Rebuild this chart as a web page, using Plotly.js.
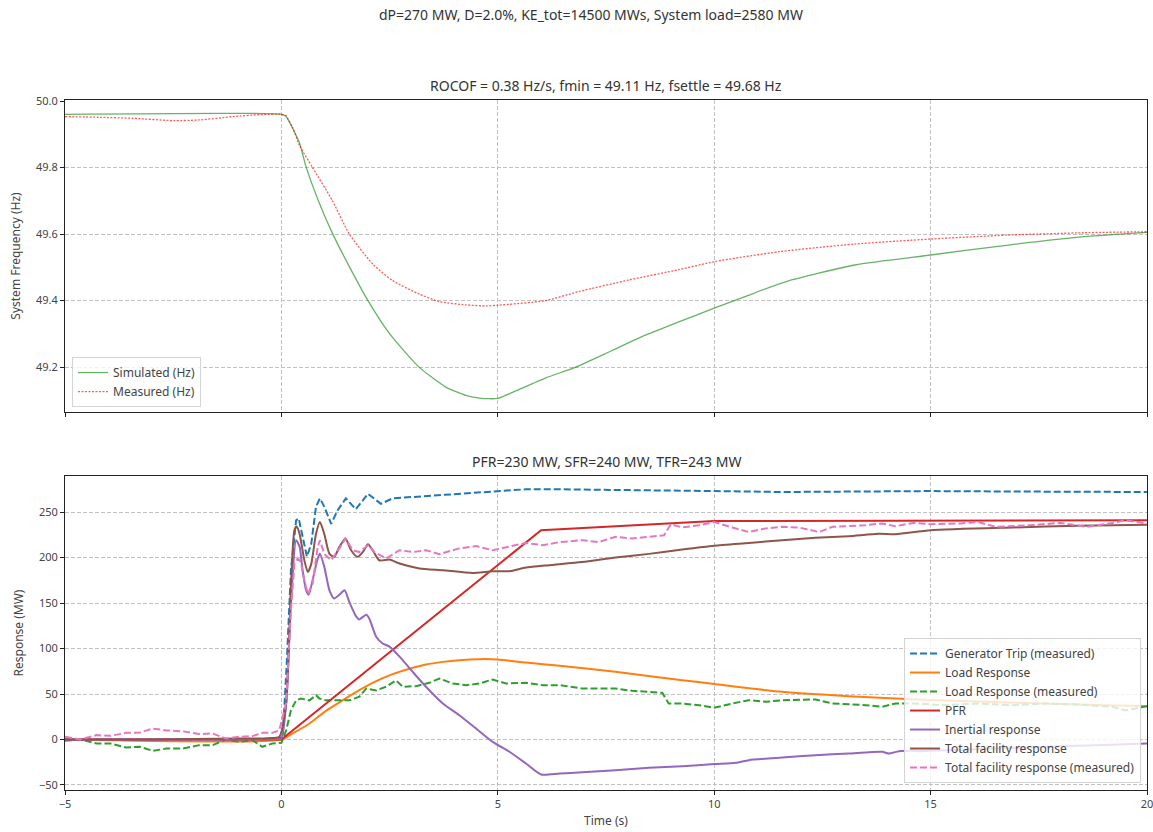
<!DOCTYPE html>
<html>
<head>
<meta charset="utf-8">
<script src="https://cdn.plot.ly/plotly-3.0.1.min.js"></script>
<style>
  html, body { margin: 0; padding: 0; background: #fff; overflow: hidden; }
  #chart { width: 1153px; height: 832px; }
</style>
</head>
<body>
<div id="chart"></div>
<script>
// ---- Frequency panel (Hz) ----
const tSim = [-5, 0, 0.1, 0.26, 0.42, 0.57, 0.88, 1.18, 1.57, 1.99, 2.49, 3.18, 3.8, 4.26, 4.57, 4.8, 5.0, 5.34, 6.1, 6.8, 7.64, 8.41, 9.18, 10, 10.71, 11.66, 13.25, 15, 16.8, 18.55, 20];
const fSim = [49.96, 49.96, 49.955, 49.918, 49.873, 49.802, 49.692, 49.602, 49.502, 49.402, 49.302, 49.2, 49.14, 49.115, 49.107, 49.105, 49.106, 49.124, 49.167, 49.2, 49.25, 49.296, 49.336, 49.377, 49.412, 49.457, 49.507, 49.537, 49.567, 49.592, 49.605];

const tMeas = [-5, -4.2, -3.43, -2.5, -1.9, -1.13, -0.51, 0, 0.1, 0.26, 0.42, 0.72, 1.18, 1.57, 2.11, 2.57, 3.18, 3.65, 4.27, 4.73, 5.0, 6.1, 6.87, 8.03, 9.18, 10, 11.5, 13.25, 15, 16.8, 18.55, 20];
const fMeas = [49.953, 49.951, 49.948, 49.941, 49.943, 49.953, 49.959, 49.96, 49.956, 49.92, 49.866, 49.8, 49.7, 49.6, 49.51, 49.46, 49.42, 49.397, 49.387, 49.384, 49.386, 49.4, 49.427, 49.462, 49.493, 49.517, 49.547, 49.57, 49.585, 49.597, 49.604, 49.607];

// ---- Response panel (MW) ----
const tGen = [-5, -4, -3, -2, -1, -0.1, 0.03, 0.12, 0.22, 0.34, 0.4, 0.49, 0.59, 0.69, 0.8, 0.89, 0.99, 1.15, 1.3, 1.49, 1.72, 2.0, 2.3, 2.57, 3.19, 3.65, 4.42, 5.0, 5.65, 6.4, 7.72, 10, 11.57, 13.8, 15, 17, 19, 20];
const pGen = [0, 0, 0, 0, 0, 1, 3, 80, 186, 241, 243, 223, 201, 215, 256, 265, 256, 237, 252, 265, 253, 270, 259, 265, 267, 269, 271, 273, 275, 275, 274, 273, 272, 273, 273, 272.5, 272, 272];

const tLoad = [-5, 0, 0.26, 0.65, 1.03, 1.42, 1.8, 2.19, 2.57, 2.96, 3.34, 3.73, 4.11, 4.58, 5.0, 5.65, 6.43, 7.72, 9.26, 10, 11.57, 13.11, 15, 16.9, 18.4, 20];
const pLoad = [0, 0, 6.6, 17.6, 31.5, 43.2, 54.2, 64.1, 71.8, 77.7, 82.4, 85.3, 87.2, 88.3, 87.9, 84.5, 81, 74.4, 65.2, 61, 52.4, 47.6, 43.5, 40.5, 38.5, 36.6];

const tLoadMeas = [-5, -4.65, -4.27, -3.96, -3.58, -3.27, -2.97, -2.66, -2.28, -1.9, -1.59, -1.28, -0.97, -0.67, -0.44, -0.21, 0, 0.11, 0.22, 0.34, 0.45, 0.65, 0.8, 0.88, 1.03, 1.34, 1.57, 1.8, 1.96, 2.19, 2.42, 2.65, 2.8, 3.11, 3.42, 3.65, 3.96, 4.27, 4.58, 4.88, 5.19, 5.65, 6.04, 6.43, 6.95, 7.72, 8.1, 8.49, 8.8, 8.95, 9.26, 9.65, 10, 10.42, 10.8, 11.19, 11.57, 12.34, 12.73, 13.5, 13.88, 14.19, 14.6, 15.3, 16.1, 16.9, 17.65, 18.4, 19.2, 19.5, 20];
const pLoadMeas = [-1.5, 0, -4.4, -4.4, -8.8, -8, -12.5, -10, -10, -6.2, -6.2, 0, -2.6, -0.7, -8, -4.4, -3.7, 10, 32, 43, 45, 43, 48.7, 45, 43, 43, 43, 47, 56, 54, 58, 65, 58, 58.6, 62.3, 67, 61.5, 59.7, 61.5, 66, 61.5, 62.3, 59.7, 59.7, 56, 56, 53.5, 52.4, 51.3, 39.6, 39.6, 37.7, 34.8, 39.6, 43.2, 41.4, 43.2, 44, 39.6, 37.7, 35.9, 39.6, 39.6, 37.7, 39.6, 37.7, 39.6, 38.5, 35.9, 32, 36.6];

const tPfr = [-5, 0, 6, 10, 20];
const pPfr = [0, 0, 230, 240, 241];

const tInert = [-5, -0.1, 0, 0.11, 0.22, 0.34, 0.42, 0.49, 0.57, 0.63, 0.72, 0.84, 0.89, 0.99, 1.11, 1.22, 1.34, 1.46, 1.57, 1.73, 1.8, 1.96, 2.03, 2.19, 2.34, 2.5, 2.73, 3.04, 3.34, 3.73, 4.11, 4.5, 4.88, 5.27, 5.65, 6.0, 6.43, 6.95, 7.72, 8.49, 9.26, 10, 10.5, 10.8, 11.57, 12.34, 13.11, 13.88, 14.04, 14.27, 15, 17, 19, 20];
const pInert = [0, 0.5, 1, 39.6, 149, 219, 212, 186, 164, 159, 175, 199, 204, 190, 164, 155, 159, 164, 151, 135, 132, 137, 133, 113, 105.5, 102, 91, 74, 58, 39.6, 26.7, 12, -2.6, -13.5, -26.4, -38.5, -37.4, -36, -33.7, -31, -29.3, -27, -25.6, -22.7, -19.8, -17.2, -15.4, -13.5, -15.4, -12.8, -12.5, -9, -6, -4.5];

const tTotal = [-5, -4, -3, -2, -1, -0.3, -0.05, 0.11, 0.22, 0.3, 0.35, 0.42, 0.53, 0.61, 0.69, 0.8, 0.89, 0.99, 1.11, 1.22, 1.34, 1.48, 1.61, 1.76, 1.88, 2.0, 2.11, 2.26, 2.5, 2.73, 3.19, 3.73, 4.42, 4.88, 5.27, 5.65, 6.18, 6.95, 7.72, 8.49, 9.26, 10, 10.8, 11.57, 12.34, 13.11, 13.8, 14.2, 15, 16.9, 18.4, 20];
const pTotal = [0, 0, 0, 0.5, 1, 1.5, 3, 40, 168, 230, 234, 226, 197, 184, 193, 226, 239, 226, 204, 200.7, 211.7, 221, 208, 200.7, 206, 214.7, 208, 197, 197.8, 193.4, 188, 186, 183, 185, 185, 189, 191.6, 195, 200, 204, 208.8, 213, 216, 219, 221.6, 223.4, 226, 225.6, 230, 233, 234.8, 236];

const tTotalMeas = [-5, -4.65, -4.27, -3.96, -3.58, -3.27, -2.97, -2.66, -2.28, -1.9, -1.59, -1.28, -0.97, -0.67, -0.44, -0.21, -0.05, 0.11, 0.22, 0.3, 0.38, 0.45, 0.53, 0.61, 0.72, 0.84, 0.89, 0.99, 1.15, 1.34, 1.48, 1.65, 1.8, 2.0, 2.15, 2.42, 2.73, 3.04, 3.34, 3.65, 4.11, 4.5, 4.88, 5.19, 5.65, 6.04, 6.43, 6.95, 7.33, 7.72, 8.1, 8.49, 8.84, 9.0, 9.26, 9.65, 10, 10.42, 10.8, 11.19, 11.57, 11.96, 12.42, 12.73, 13.11, 13.5, 13.88, 14.19, 14.6, 15, 15.7, 16.1, 16.5, 17.3, 18.0, 18.6, 19.2, 19.5, 20];
const pTotalMeas = [3, 0, 4.8, 4, 7.3, 7.7, 12, 10, 9, 6, 6.6, 1, 3, 3.7, 7.3, 7.3, 10, 40, 142, 193, 199, 195, 175, 160, 171, 212, 219, 204, 197, 210, 221, 208, 206, 213.5, 206, 199, 208, 206, 208, 203.7, 210, 212.5, 208, 211, 216, 213.5, 217, 219, 217, 222.7, 221, 222.7, 224.5, 236.6, 233, 235.5, 239, 233, 228, 232, 233.7, 233, 228, 233.7, 234.4, 235.5, 237.4, 234.4, 238, 236.6, 237.4, 239, 233.7, 235.5, 238, 233.7, 238, 241, 237.4];

// ---- Text ----
const figTitle = 'dP=270 MW, D=2.0%, KE_tot=14500 MWs, System load=2580 MW';
const freqTitle = 'ROCOF = 0.38 Hz/s, fmin = 49.11 Hz, fsettle = 49.68 Hz';
const respTitle = 'PFR=230 MW, SFR=240 MW, TFR=243 MW';
const freqTicks = [49.2, 49.4, 49.6, 49.8, 50.0];
const freqTickText = ['49.2', '49.4', '49.6', '49.8', '50.0'];
const timeTicks = [-5, 0, 5, 10, 15, 20];
const respTicks = [-50, 0, 50, 100, 150, 200, 250];

const FONT = 'Noto Sans, Open Sans, sans-serif';
const TXT = '#333';

function line(x, y, name, color, opts) {
  opts = opts || {};
  return {
    type: 'scatter', mode: 'lines', x: x, y: y, name: name,
    xaxis: opts.xaxis || 'x2', yaxis: opts.yaxis || 'y2',
    legend: opts.legend || 'legend2',
    line: { color: color, width: opts.width || 2, dash: opts.dash || 'solid',
            shape: opts.shape || 'linear', smoothing: opts.smoothing || 0 },
    hoverinfo: 'x+y+name'
  };
}

const traces = [
  line(tSim, fSim, 'Simulated (Hz)', 'rgba(0,128,0,0.6)', { xaxis: 'x', yaxis: 'y', legend: 'legend', width: 1.3, shape: 'spline', smoothing: 0.6 }),
  line(tMeas, fMeas, 'Measured (Hz)', 'rgba(255,0,0,0.65)', { xaxis: 'x', yaxis: 'y', legend: 'legend', width: 1.3, dash: '2px,1.5px', shape: 'spline', smoothing: 0.6 }),

  line(tGen, pGen, 'Generator Trip (measured)', '#1f77b4', { dash: '7px,3px' }),
  line(tLoad, pLoad, 'Load Response', '#ff7f0e', { shape: 'spline', smoothing: 0.6 }),
  line(tLoadMeas, pLoadMeas, 'Load Response (measured)', '#2ca02c', { dash: '7px,3px' }),
  line(tPfr, pPfr, 'PFR', '#d62728'),
  line(tInert, pInert, 'Inertial response', '#9467bd', { shape: 'spline', smoothing: 0.6 }),
  line(tTotal, pTotal, 'Total facility response', '#8c564b', { shape: 'spline', smoothing: 0.6 }),
  line(tTotalMeas, pTotalMeas, 'Total facility response (measured)', '#e377c2', { dash: '7px,3px' })
];

const axisCommon = {
  showline: true, mirror: true, linecolor: '#222', linewidth: 1,
  showgrid: true, gridcolor: '#c2c2c2', griddash: '4px,2px', gridwidth: 1,
  zeroline: false, ticks: 'outside', ticklen: 4, tickcolor: '#222',
  ticklabeloverflow: 'allow',
  tickfont: { family: FONT, size: 11, color: '#444' }
};

const layout = {
  width: 1153, height: 832,
  margin: { l: 65, r: 6, t: 100, b: 42 },
  paper_bgcolor: '#fff', plot_bgcolor: '#fff',
  font: { family: FONT, color: TXT },
  showlegend: true,
  xaxis: Object.assign({}, axisCommon, {
    domain: [0, 1], anchor: 'y', range: [-5, 20], tickvals: timeTicks,
    showticklabels: false
  }),
  yaxis: Object.assign({}, axisCommon, {
    domain: [0.5478, 1], anchor: 'x', range: [49.065, 50.003],
    tickvals: freqTicks, ticktext: freqTickText,
    title: { text: 'System Frequency (Hz)', font: { family: FONT, size: 12, color: '#444' }, standoff: 12 }
  }),
  xaxis2: Object.assign({}, axisCommon, {
    domain: [0, 1], anchor: 'y2', range: [-5, 20], tickvals: timeTicks,
    title: { text: 'Time (s)', font: { family: FONT, size: 12, color: '#444' }, standoff: 6 }
  }),
  yaxis2: Object.assign({}, axisCommon, {
    domain: [0, 0.4551], anchor: 'x2', range: [-55.5, 289.6], tickvals: respTicks,
    title: { text: 'Response (MW)', font: { family: FONT, size: 12, color: '#444' }, standoff: 12 }
  }),
  legend: {
    x: 0.0065, y: 0.555, xanchor: 'left', yanchor: 'bottom',
    bgcolor: 'rgba(255,255,255,0.8)', bordercolor: '#d4d4d4', borderwidth: 1,
    font: { family: FONT, size: 12, color: '#444' }, itemwidth: 30, tracegroupgap: 0
  },
  legend2: {
    x: 0.9945, y: 0.0101, xanchor: 'right', yanchor: 'bottom',
    bgcolor: 'rgba(255,255,255,0.8)', bordercolor: '#d4d4d4', borderwidth: 1,
    font: { family: FONT, size: 12, color: '#444' }, itemwidth: 30, tracegroupgap: 0
  },
  annotations: [
    { text: figTitle, xref: 'paper', yref: 'paper', x: 0.4861, y: 1.1232,
      xanchor: 'center', yanchor: 'middle', showarrow: false,
      font: { family: FONT, size: 14, color: TXT } },
    { text: freqTitle, xref: 'paper', yref: 'paper', x: 0.5, y: 1.0203,
      xanchor: 'center', yanchor: 'middle', showarrow: false,
      font: { family: FONT, size: 14, color: TXT } },
    { text: respTitle, xref: 'paper', yref: 'paper', x: 0.5, y: 0.4754,
      xanchor: 'center', yanchor: 'middle', showarrow: false,
      font: { family: FONT, size: 14, color: TXT } }
  ]
};

Plotly.newPlot('chart', traces, layout, { staticPlot: true, displayModeBar: false });
</script>
</body>
</html>
